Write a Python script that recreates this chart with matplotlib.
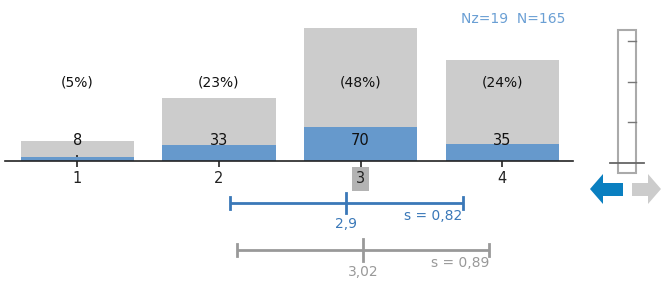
import matplotlib
matplotlib.use("Agg")
import matplotlib.pyplot as plt
from matplotlib.patches import Rectangle, Polygon

W, H, DPI = 661, 282, 100

# data
categories = [1, 2, 3, 4]
counts = [8, 33, 70, 35]                 # blue bars (sample)
pct_labels = ["(5%)", "(23%)", "(48%)", "(24%)"]
ref_share = [6.3, 19.9, 42.0, 31.8]      # gray bars (reference distribution, %)
nz, n_total = 19, 165
mean_s, sd_s = 2.9, 0.82
mean_r, sd_r = 3.02, 0.89
highlight = 3

BLUE = "#6699cc"
GRAY = "#cccccc"
DARK_BLUE = "#3a78b8"
MID_GRAY = "#999999"


def px(x0, y0, w, h):
    """pixel box (top-left origin) -> figure fraction rect"""
    return [x0 / W, 1 - (y0 + h) / H, w / W, h / H]


def fx(x):
    return x / W


def fy(y):
    return 1 - y / H


fig = plt.figure(figsize=(W / DPI, H / DPI), dpi=DPI)

# main bar axes: gray reference on a hidden twin, blue counts on top
ax = fig.add_axes(px(5, 20, 568, 141))
ax2 = ax.twinx()
ax2.bar(categories, ref_share, width=0.8, color=GRAY, zorder=1)
ax2.set_ylim(0, 44.5)
ax2.axis("off")
ax.set_zorder(ax2.get_zorder() + 1)
ax.patch.set_visible(False)
ax.bar(categories, counts, width=0.8, color=BLUE, zorder=2)
ax.set_ylim(0, 290)
ax.set_xlim(0.49, 4.5)
for s in ["top", "right", "left"]:
    ax.spines[s].set_visible(False)
ax.spines["bottom"].set_color("#222222")
ax.spines["bottom"].set_linewidth(1.2)
ax.set_yticks([])
ax.set_xticks(categories)
ax.tick_params(axis="x", direction="inout", length=9, width=1.2, colors="#222222",
               labelsize=10.5, pad=3)
for lbl in ax.get_xticklabels():
    if lbl.get_text() == str(highlight):
        lbl.set_bbox(dict(facecolor="#b3b3b3", edgecolor="none", pad=3))

xt = ax.get_xaxis_transform()
for x, c, p in zip(categories, counts, pct_labels):
    ax.text(x, 0.115, str(c), transform=xt, ha="center", va="baseline",
            fontsize=10.5, color="#111111")
    ax.text(x, 0.56, p, transform=xt, ha="center", va="center",
            fontsize=10, color="#111111")

fig.text(565 / W, fy(19), f"Nz={nz}  N={n_total}", ha="right", va="center",
         fontsize=10, color="#6a9fd4")

# mean / sd bars below, same x scale
axm = fig.add_axes(px(5, 185, 568, 95))
axm.set_xlim(0.49, 4.5)
axm.set_ylim(0, 95)
axm.invert_yaxis()
axm.axis("off")


def mean_bar(y, m, s, color, label_m, label_s, tick_h, cap_h):
    axm.plot([m - s, m + s], [y, y], color=color, lw=2, solid_capstyle="butt")
    for e in (m - s, m + s):
        axm.plot([e, e], [y - cap_h, y + cap_h], color=color, lw=2)
    axm.plot([m, m], [y - tick_h, y + tick_h], color=color, lw=2)
    axm.text(m, y + tick_h + 4, label_m, ha="center", va="top", fontsize=10, color=color)
    axm.text(m + s, y + 6, label_s, ha="right", va="top", fontsize=10, color=color)


mean_bar(18, mean_s, sd_s, DARK_BLUE, "2,9", "s = 0,82", 10, 6)
mean_bar(65, mean_r, sd_r, MID_GRAY, "3,02", "s = 0,89", 11, 6)

# slider gadget on the right
fig.patches.append(Rectangle((fx(618), fy(173)), 18 / W, 143 / H, transform=fig.transFigure,
                             facecolor="white", edgecolor="#aaaaaa", lw=1.5))
for yy in (41, 82, 122):
    fig.lines.append(plt.Line2D([fx(628), fx(636)], [fy(yy), fy(yy)],
                                transform=fig.transFigure, color="#777777", lw=1))
fig.lines.append(plt.Line2D([fx(610), fx(644)], [fy(163), fy(163)],
                            transform=fig.transFigure, color="#666666", lw=1.3))

left_arrow = [(590, 189), (603, 174), (603, 183), (623, 183), (623, 196), (603, 196), (603, 204)]
right_arrow = [(661, 189), (648, 174), (648, 183), (632, 183), (632, 196), (648, 196), (648, 204)]
fig.patches.append(Polygon([(fx(a), fy(b)) for a, b in left_arrow], closed=True,
                           transform=fig.transFigure, facecolor="#0a7fc0", edgecolor="none"))
fig.patches.append(Polygon([(fx(a), fy(b)) for a, b in right_arrow], closed=True,
                           transform=fig.transFigure, facecolor="#cccccc", edgecolor="none"))

fig.savefig("out.png", dpi=DPI)
